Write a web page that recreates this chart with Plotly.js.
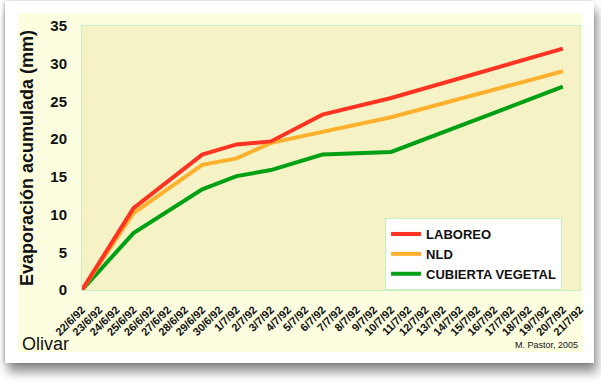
<!DOCTYPE html>
<html>
<head>
<meta charset="utf-8">
<script src="https://cdn.plot.ly/plotly-3.0.1.min.js"></script>
<style>
  html, body { margin: 0; padding: 0; background: #ffffff; }
  #wrap { position: relative; width: 601px; height: 388px; overflow: hidden; background: #ffffff; }
  #card { position: absolute; left: 5px; top: 1px; width: 589px; height: 362px; background: #ffffff;
          box-shadow: 3px 9px 10px rgba(0,0,0,0.45), -1px 0 3px rgba(0,0,0,0.25); }
  #panel { position: absolute; left: 18px; top: 13px; width: 565px; height: 339px; background: #fdfde0; }
  #chart { position: absolute; left: 0; top: 0; width: 601px; height: 388px; }
</style>
</head>
<body>
<div id="wrap">
  <div id="card"></div>
  <div id="panel"></div>
  <div id="chart"></div>
</div>
<script>
// All category labels on the x axis
const allDates = ['22/6/92','23/6/92','24/6/92','25/6/92','26/6/92','27/6/92','28/6/92','29/6/92','30/6/92',
  '1/7/92','2/7/92','3/7/92','4/7/92','5/7/92','6/7/92','7/7/92','8/7/92','9/7/92','10/7/92',
  '11/7/92','12/7/92','13/7/92','14/7/92','15/7/92','16/7/92','17/7/92','18/7/92','19/7/92','20/7/92','21/7/92'];
// Measurement dates
const measDates = ['22/6/92','25/6/92','29/6/92','1/7/92','3/7/92','6/7/92','10/7/92','20/7/92'];
// Series values (mm)
const laboreo  = [0, 10.85, 17.95, 19.3, 19.7, 23.25, 25.45, 32.0];
const nld      = [0, 10.2, 16.6, 17.45, 19.5, 21.0, 22.9, 29.0];
const cubierta = [0, 7.55, 13.35, 15.1, 15.9, 17.95, 18.3, 26.95];
// Y axis ticks
const yTicks = [0, 5, 10, 15, 20, 25, 30, 35];

const FONT = 'Liberation Sans, Arial, sans-serif';

const traces = [
  { x: measDates, y: cubierta, name: 'CUBIERTA VEGETAL', mode: 'lines', legendrank: 3,
    line: { color: '#00a014', width: 4 } },
  { x: measDates, y: nld, name: 'NLD', mode: 'lines', legendrank: 2,
    line: { color: '#ffb12e', width: 4 } },
  { x: measDates, y: laboreo, name: 'LABOREO', mode: 'lines', legendrank: 1,
    line: { color: '#ff3322', width: 4 } }
];

const layout = {
  width: 601, height: 388,
  margin: { l: 82, r: 21, t: 26, b: 98, pad: 0 },
  paper_bgcolor: 'rgba(0,0,0,0)',
  plot_bgcolor: '#f5f3c6',
  showlegend: true,
  legend: {
    x: 0.964, xanchor: 'right', y: 0.2727, yanchor: 'top',
    bgcolor: '#ffffff', bordercolor: '#c8f0c0', borderwidth: 1,
    font: { family: FONT, size: 13, weight: 'bold', color: '#111111' },
    tracegroupgap: 0
  },
  xaxis: {
    type: 'category',
    categoryorder: 'array',
    categoryarray: allDates,
    tickvals: allDates,
    ticktext: allDates,
    range: [0, allDates.length - 1],
    tickangle: -45,
    ticks: 'outside', ticklen: 8, tickcolor: 'rgba(0,0,0,0)',
    showgrid: false, zeroline: false,
    showline: true, linecolor: '#c8f0c0', linewidth: 1, mirror: true,
    tickfont: { family: FONT, size: 11, weight: 'bold', color: '#111111' }
  },
  yaxis: {
    range: [0, 35],
    tickvals: yTicks,
    ticks: 'outside', ticklen: 11, tickcolor: 'rgba(0,0,0,0)',
    showgrid: false, zeroline: false,
    showline: true, linecolor: '#c8f0c0', linewidth: 1, mirror: true,
    tickfont: { family: FONT, size: 15, weight: 'bold', color: '#111111' },
    title: { text: 'Evaporación acumulada (mm)', standoff: 12,
             font: { family: FONT, size: 18, weight: 'bold', color: '#111111' } }
  },
  annotations: [
    { text: 'Olivar', xref: 'paper', yref: 'paper', x: -0.125, y: -0.205,
      xanchor: 'left', yanchor: 'middle', showarrow: false,
      font: { family: FONT, size: 18, color: '#111111' } },
    { text: 'M. Pastor, 2005', xref: 'paper', yref: 'paper', x: 1.0, y: -0.210,
      xanchor: 'right', yanchor: 'middle', showarrow: false,
      font: { family: FONT, size: 9, color: '#111111' } }
  ]
};

Plotly.newPlot('chart', traces, layout, { displayModeBar: false, staticPlot: true });
</script>
</body>
</html>
